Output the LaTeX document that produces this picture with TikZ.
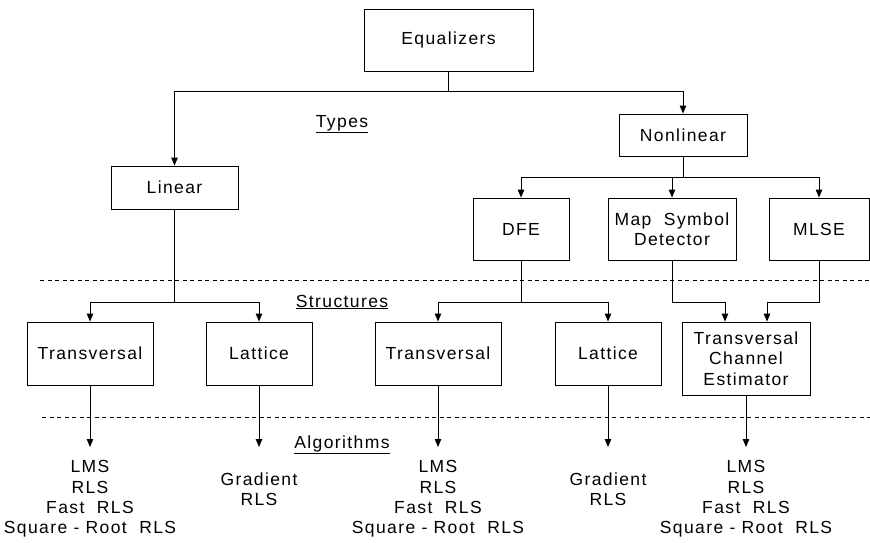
\documentclass[tikz,border=0pt]{standalone}
\usepackage{fontspec}
\setmainfont{Liberation Sans}[LetterSpace=8]
\usetikzlibrary{arrows.meta}
\begin{document}
\begin{tikzpicture}[x=1pt,y=-1pt,
  every node/.style={font=\fontsize{17.5}{20.3}\selectfont, inner sep=0pt, align=center},
  box/.style={draw, line width=0.9pt},
  conn/.style={line width=0.9pt},
  arr/.style={line width=0.9pt, -{Triangle[length=8pt,width=6.5pt]}},
  sep/.style={line width=0.9pt, dash pattern=on 4pt off 3.5pt},
  lbl/.style={}]
\useasboundingbox (0,0) rectangle (870,542);
% top
\node[box, minimum width=169pt, minimum height=62pt] (eq) at (448.5,40) {Equalizers};
\node[box, minimum width=127pt, minimum height=43pt] (lin) at (174.5,187.5) {Linear};
\node[box, minimum width=128pt, minimum height=42pt] (nl) at (683,135) {Nonlinear};
\node[box, minimum width=96pt, minimum height=62pt] (dfe) at (521,229) {DFE};
\node[box, minimum width=128pt, minimum height=62pt] (map) at (672,229) {Map\ \ Symbol\\Detector};
\node[box, minimum width=100pt, minimum height=62pt] (mlse) at (819,229) {MLSE};
% structures
\node[box, minimum width=126pt, minimum height=63pt] (t1) at (90,353.5) {Transversal};
\node[box, minimum width=106pt, minimum height=63pt] (l1) at (259,353.5) {Lattice};
\node[box, minimum width=126pt, minimum height=63pt] (t2) at (438,353.5) {Transversal};
\node[box, minimum width=106pt, minimum height=63pt] (l2) at (608,353.5) {Lattice};
\node[box, minimum width=128pt, minimum height=73pt] (tce) at (746,358.5) {Transversal\\Channel\\Estimator};
% labels
\node[lbl] (types) at (342,124) {\underline{Types}};
\node[lbl] (struct) at (342,302) {\underline{Structures}};
\node[lbl] (algs) at (342,445) {\underline{Algorithms}};
% algorithms
\node (a1t) at (90,499) {LMS\\RLS\\Fast\ \ RLS\\Square - Root\ \ RLS};
\node (a2t) at (259,489) {Gradient\\RLS};
\node (a3t) at (438,499) {LMS\\RLS\\Fast\ \ RLS\\Square - Root\ \ RLS};
\node (a4t) at (608,489) {Gradient\\RLS};
\node (a5t) at (746,499) {LMS\\RLS\\Fast\ \ RLS\\Square - Root\ \ RLS};
% junctions
\coordinate (j1) at (448.5,91.5);
\coordinate (j2) at (683,177);
\coordinate (j3) at (174.5,302);
\coordinate (j4) at (521,302);
\coordinate (m1) at (672,302);
\coordinate (m2) at (819,302);
\coordinate (e1) at (90,447);
\coordinate (e2) at (259,447);
\coordinate (e3) at (438,447);
\coordinate (e4) at (608,447);
\coordinate (e5) at (746,447);
\coordinate (d1a) at (40,280);
\coordinate (d1b) at (870,280);
\coordinate (d2a) at (42,417);
\coordinate (d2b) at (870,417);
% connectors
\draw[conn] (eq.south) -- (j1);
\draw[arr] (j1) -| (lin.north);
\draw[arr] (j1) -| (nl.north);
\draw[conn] (nl.south) -- (j2);
\draw[arr] (j2) -| (dfe.north);
\draw[arr] (j2) -| (map.north);
\draw[arr] (j2) -| (mlse.north);
\draw[conn] (lin.south) -- (j3);
\draw[arr] (j3) -| (t1.north);
\draw[arr] (j3) -| (l1.north);
\draw[conn] (dfe.south) -- (j4);
\draw[arr] (j4) -| (t2.north);
\draw[arr] (j4) -| (l2.north);
\draw[arr] (map.south) -- (m1) -| ([xshift=-21pt]tce.north);
\draw[arr] (mlse.south) -- (m2) -| ([xshift=21pt]tce.north);
\draw[arr] (t1.south) -- (e1);
\draw[arr] (l1.south) -- (e2);
\draw[arr] (t2.south) -- (e3);
\draw[arr] (l2.south) -- (e4);
\draw[arr] (tce.south) -- (e5);
% separators
\draw[sep] (d1a) -- (d1b);
\draw[sep] (d2a) -- (d2b);
\end{tikzpicture}
\end{document}
